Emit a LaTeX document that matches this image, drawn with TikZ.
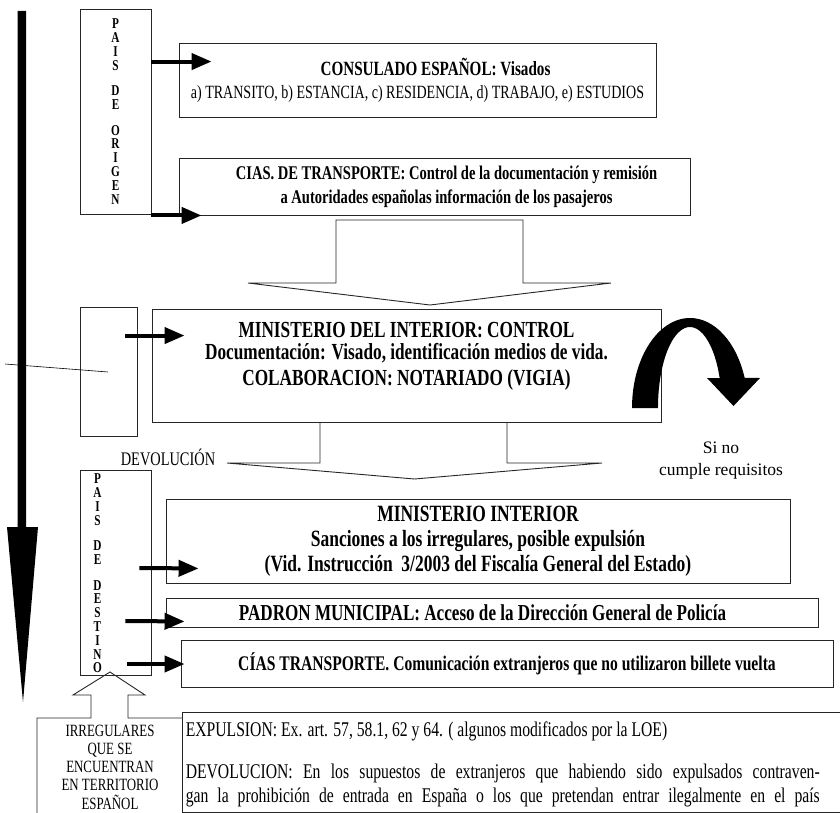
\documentclass[tikz,border=0pt]{standalone}
\usepackage{fontspec}
\setmainfont[FakeStretch=0.75]{Liberation Serif}
\newfontfamily\plainserif{Liberation Serif}
\usetikzlibrary{calc}
\usetikzlibrary{arrows.meta}
\usetikzlibrary{positioning}

\begin{document}
\begin{tikzpicture}[x=1pt, y=-1pt,
    box/.style={draw=black!85, line width=0.9pt, inner sep=0pt, align=center, font=\fontsize{20}{24}\selectfont\bfseries},
    letters/.style={inner sep=0pt, align=center, font=\fontsize{15}{13.8}\selectfont\bfseries},
    fat/.style={line width=4pt, -{Triangle[length=20pt, width=16pt]}},
    hollow/.style={draw=black!85, line width=0.9pt}]
    \useasboundingbox (0,0) rectangle (840,813);
    \clip (0,0) rectangle (840,813);

    % time runs down the page
    \fill (17.5,11) -- (26,11) -- (26,527) -- (38,527) -- (23,702) -- (7,527) -- (17.5,527) -- cycle;

    \node[box, minimum width=71pt, minimum height=205pt] (origen) at (115.5,111.5) {};
    \node[letters] (origentxt) at (origen.center) {P\\A\\I\\S\\[11.8pt]D\\E\\[11.8pt]O\\R\\I\\G\\E\\N};

    \node[box, minimum width=477pt, minimum height=74pt, font=\fontsize{20.2}{23}\selectfont\bfseries] (consulado) at (417.5,80)
        {\hspace*{36pt}CONSULADO ESPAÑOL: Visados\\\textmd{\fontsize{18.7}{23}\selectfont a) TRANSITO, b) ESTANCIA, c) RESIDENCIA, d) TRABAJO, e) ESTUDIOS}};
    \node[box, minimum width=511pt, minimum height=57pt, font=\fontsize{19.4}{24}\selectfont\bfseries] (cias) at (434.5,186.5)
        {\hspace*{24pt}CIAS. DE TRANSPORTE: Control de la documentación y remisión\\\hspace*{24pt}a Autoridades españolas información de los pasajeros};

    \draw[fat] ($(origen.north east)+(0,53)$) -- ($(consulado.north west)+(33,19)$);
    \draw[fat] ($(origen.south east)+(0,1)$) -- ($(cias.south west)+(23,0)$);

    \draw[hollow] (336,220) -- (523,220) -- (523,283) -- (611,283) -- (430,305) -- (248,283) -- (336,283) -- cycle;

    \node[box, minimum width=57pt, minimum height=129pt] (midbox) at (108.5,371.5) {};
    \draw[line width=0.6pt] (5,364) -- ($(midbox.center)+(-0.5,0.5)$);

    \node[box, minimum width=509pt, minimum height=113pt] (ministerio) at (406.5,365.5) {};
    \node[align=center, font=\fontsize{23}{21.5}\selectfont\bfseries] (ministeriotxt) at ($(ministerio.center)+(0,-9)$)
        {MINISTERIO DEL INTERIOR: CONTROL\\Documentación: Visado, identificación medios de vida.\\[5pt]COLABORACION: NOTARIADO (VIGIA)};
    \draw[fat] ($(midbox.north east)+(-12,29)$) -- ($(ministerio.north west)+(33,27)$);

    % not accepted: back
    \fill (632,408) arc[start angle=180, end angle=340.5, x radius=58, y radius=90]
        -- (760,378) -- (733.5,406) -- (707,378) -- (719.7,378)
        arc[start angle=338.26, end angle=180, x radius=32, y radius=81] -- cycle;
    \node[align=center, font=\plainserif\fontsize{17.5}{22}\selectfont] (sino) at (721,461) {Si no\\cumple requisitos};

    \draw[hollow] (320,422) -- (320,463) -- (227,463) -- (414.5,479) -- (602,463) -- (507,463) -- (507,422);
    \node[font=\fontsize{19.2}{22}\selectfont] (devol) at (168,457) {DEVOLUCIÓN};

    \node[box, minimum width=71pt, minimum height=205pt] (destino) at (115.5,572.5) {};
    \node[letters] (destinotxt) at ($(destino.center)+(-18,1)$) {P\\A\\I\\S\\[11.8pt]D\\E\\[11.8pt]D\\E\\S\\T\\I\\N\\O};

    \node[box, minimum width=624pt, minimum height=84pt, font=\fontsize{23.3}{25}\selectfont\bfseries] (sanciones) at (478,541)
        {MINISTERIO INTERIOR\\Sanciones a los irregulares, posible expulsión\\(Vid. Instrucción\ \ 3/2003 del Fiscalía General del Estado)};
    \node[box, minimum width=652pt, minimum height=29pt, font=\fontsize{22.8}{24}\selectfont\bfseries] (padron) at (492,612.5)
        {PADRON MUNICIPAL: Acceso de la Dirección General de Policía\hspace*{19pt}};
    \node[box, minimum width=652pt, minimum height=47pt, font=\fontsize{20.8}{24}\selectfont\bfseries] (ciastrans) at (507,663.5)
        {CÍAS TRANSPORTE. Comunicación extranjeros que no utilizaron billete vuelta};

    \draw[fat] ($(destino.east)+(-12,-4.5)$) -- ($(sanciones.south west)+(33,-15)$);
    \draw[fat] ($(destino.east)+(-26,48.5)$) -- ($(padron.south west)+(19,-6)$);
    \draw[fat] ($(destino.east)+(-24,91.5)$) -- ($(ciastrans.west)+(4,0.5)$);

    % irregulares, pointing up
    \draw[hollow] (182,718) -- (128,718) -- (128,695) -- (145,695) -- (110,672) -- (73,695) -- (91,695) -- (91,718) -- (37,718) -- (37,830);
    \node[align=center, inner sep=0pt, font=\fontsize{17.2}{18.3}\selectfont] (irregtxt) at (110,767)
        {IRREGULARES\\QUE SE\\ENCUENTRAN\\EN TERRITORIO\\ESPAÑOL};

    \node[box, minimum width=700pt, minimum height=100pt] (expulsion) at (532,762) {};
    \node[anchor=west, align=left, inner sep=0pt, font=\fontsize{20.9}{24}\selectfont] (expulsiontxt) at ($(expulsion.west)+(4,2)$)
        {EXPULSION: Ex. art. 57, 58.1, 62 y 64. ( algunos modificados por la LOE)\\[18pt]%
        \makebox[634pt][s]{DEVOLUCION: En los supuestos de extranjeros que habiendo sido expulsados contraven-}\\
        \makebox[634pt][s]{gan la prohibición de entrada en España o los que pretendan entrar ilegalmente en el país}};
\end{tikzpicture}
\end{document}
